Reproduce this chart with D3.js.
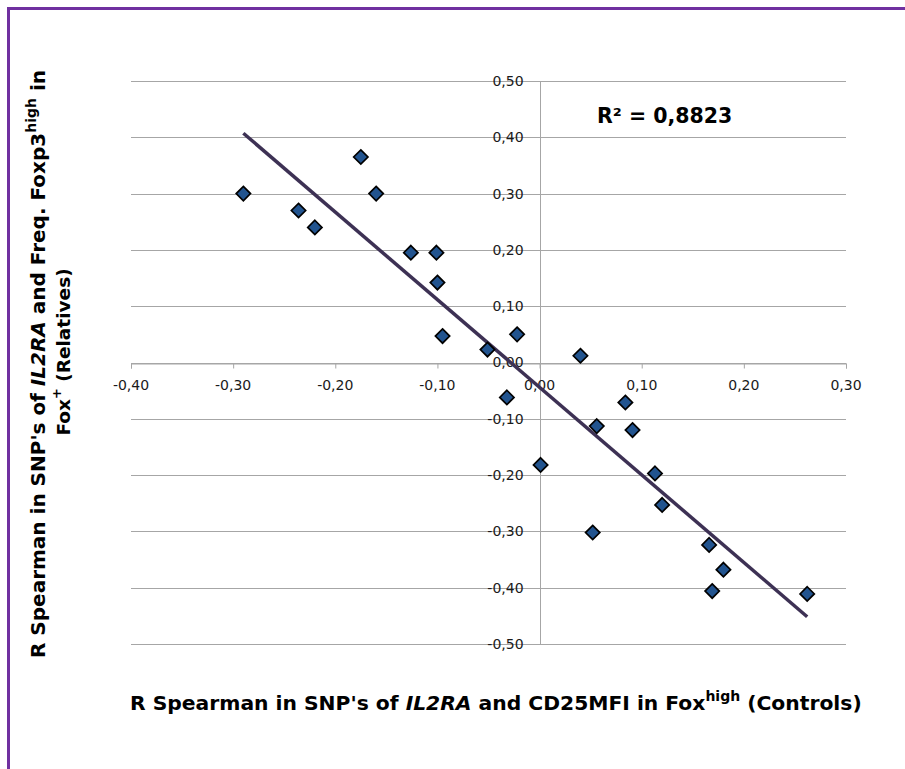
<!DOCTYPE html>
<html><head><meta charset="utf-8">
<script src="https://cdn.jsdelivr.net/npm/d3@7"></script>
<style>html,body{margin:0;padding:0;background:#fff;}svg{display:block;}</style>
</head><body>
<script>
// Data
const xValues = [-0.290,-0.236,-0.220,-0.175,-0.160,-0.126,-0.101,-0.100,-0.095,-0.051,-0.022,-0.032,
                 0.001,0.040,0.084,0.056,0.091,0.113,0.120,0.052,0.166,0.180,0.169,0.262];
const yValues = [0.300,0.270,0.240,0.365,0.300,0.195,0.195,0.142,0.047,0.023,0.050,-0.062,
                 -0.182,0.012,-0.071,-0.113,-0.120,-0.197,-0.253,-0.302,-0.324,-0.368,-0.406,-0.411];
const xTicks = [-0.40,-0.30,-0.20,-0.10,0.00,0.10,0.20,0.30];
const yTicks = [0.50,0.40,0.30,0.20,0.10,0.00,-0.10,-0.20,-0.30,-0.40,-0.50];
const trendSlope = -1.556;
const trendIntercept = -0.044;
const r2Label = "R² = 0,8823";

const W = 905, H = 769;
const svg = d3.select("body").append("svg").attr("width", W).attr("height", H);

// purple frame
svg.append("rect").attr("x", 8.5).attr("y", 8.5).attr("width", 1000).attr("height", 1000)
  .attr("fill", "none").attr("stroke", "#7030A0").attr("stroke-width", 3);

const x = d3.scaleLinear().domain([-0.4, 0.3]).range([131, 846]);
const y = d3.scaleLinear().domain([-0.5, 0.5]).range([644, 81]);
const fmt = v => d3.format(".2f")(v).replace(".", ",").replace("−","-");

// horizontal gridlines
svg.append("g").selectAll("line").data(yTicks).join("line")
  .attr("x1", x(-0.4)).attr("x2", x(0.3))
  .attr("y1", d => Math.round(y(d)) + 0.5).attr("y2", d => Math.round(y(d)) + 0.5)
  .attr("stroke", "#a6a6a6").attr("stroke-width", 1);

// vertical axis at x = 0
svg.append("line").attr("x1", Math.round(x(0)) + 0.5).attr("x2", Math.round(x(0)) + 0.5)
  .attr("y1", y(0.5)).attr("y2", y(-0.5)).attr("stroke", "#a6a6a6");

// x axis ticks at y = 0
const xAxis = d3.axisBottom(x).tickValues(xTicks).tickSize(5).tickFormat("");
const gx = svg.append("g").attr("transform", `translate(0,${Math.round(y(0)) + 0.5})`).call(xAxis);
gx.select(".domain").attr("stroke", "#a6a6a6");
gx.selectAll(".tick line").attr("stroke", "#a6a6a6");

// tick labels
const tickFont = "'DejaVu Sans', Verdana, sans-serif";
svg.append("g").selectAll("text").data(xTicks).join("text")
  .attr("x", d => x(d)).attr("y", 390)
  .attr("text-anchor", "middle").attr("font-family", tickFont).attr("font-size", 14)
  .attr("fill", "#1a1a1a").text(d => fmt(d));
svg.append("g").selectAll("text").data(yTicks).join("text")
  .attr("x", x(0) - 16).attr("y", d => y(d)).attr("dy", "0.35em")
  .attr("text-anchor", "end").attr("font-family", tickFont).attr("font-size", 14)
  .attr("fill", "#1a1a1a").text(d => fmt(d));

// trend line
const xs = d3.extent(xValues);
svg.append("line")
  .attr("x1", x(xs[0])).attr("y1", y(trendIntercept + trendSlope * xs[0]))
  .attr("x2", x(xs[1])).attr("y2", y(trendIntercept + trendSlope * xs[1]))
  .attr("stroke", "#3d3154").attr("stroke-width", 3.5);

// points
const pts = xValues.map((v, i) => [v, yValues[i]]);
svg.append("g").selectAll("path").data(pts).join("path")
  .attr("transform", d => `translate(${x(d[0])},${y(d[1])})`)
  .attr("d", d3.symbol(d3.symbolDiamond2, 130)())
  .attr("fill", "#22548f").attr("stroke", "#000").attr("stroke-width", 1.7);

// R² label
svg.append("text").attr("x", 597).attr("y", 123)
  .attr("font-family", "'DejaVu Sans', Verdana, sans-serif").attr("font-weight", "bold")
  .attr("font-size", 20.5).attr("fill", "#000").text(r2Label);

// axis titles
const tf = "'DejaVu Sans', Verdana, sans-serif";
const xt = svg.append("text").attr("x", 130).attr("y", 710)
  .attr("font-family", tf).attr("font-weight", "bold").attr("font-size", 20.3).attr("fill", "#000");
xt.append("tspan").text("R Spearman in SNP's of ");
xt.append("tspan").attr("font-style", "italic").text("IL2RA");
xt.append("tspan").text(" and CD25MFI in Fox");
xt.append("tspan").attr("font-size", 14).attr("dy", -9).text("high");
xt.append("tspan").attr("dy", 9).text(" (Controls)");

const yt1 = svg.append("text").attr("transform", "translate(45,364) rotate(-90)")
  .attr("text-anchor", "middle")
  .attr("font-family", tf).attr("font-weight", "bold").attr("font-size", 20).attr("fill", "#000");
yt1.append("tspan").text("R Spearman in SNP's of ");
yt1.append("tspan").attr("font-style", "italic").text("IL2RA");
yt1.append("tspan").text(" and Freq. Foxp3");
yt1.append("tspan").attr("font-size", 14).attr("dy", -9).text("high");
yt1.append("tspan").attr("dy", 9).text(" in");

const yt2 = svg.append("text").attr("transform", "translate(70,352) rotate(-90)")
  .attr("text-anchor", "middle")
  .attr("font-family", tf).attr("font-weight", "bold").attr("font-size", 18.5).attr("fill", "#000");
yt2.append("tspan").text("Fox");
yt2.append("tspan").attr("font-size", 13).attr("dy", -9).text("+");
yt2.append("tspan").attr("dy", 9).text(" (Relatives)");
</script>
</body></html>
